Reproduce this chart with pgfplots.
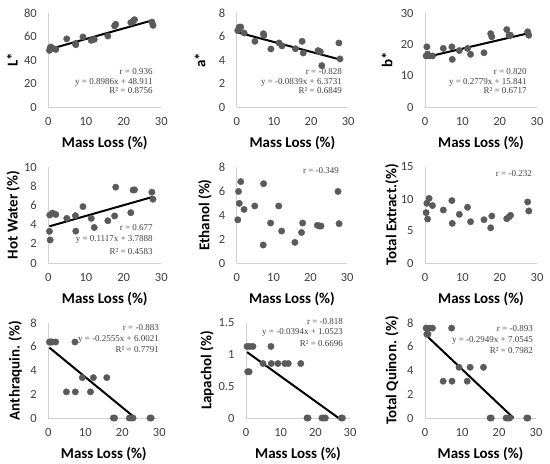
\documentclass[border=0pt]{standalone}
\usepackage{pgfplots}
\pgfplotsset{compat=1.18}
\usepackage{fontspec}
\setmainfont{Carlito}
\newfontfamily\annfont{Liberation Serif}
\definecolor{axgray}{HTML}{D0D0D0}
\definecolor{dotgray}{HTML}{5A5A5A}
\definecolor{tickgray}{HTML}{404040}
\definecolor{anngray}{HTML}{404040}
\pgfplotsset{
  ylabshift/.initial=36bp,
  panel/.style={
    scale only axis, xmin=0, xmax=30, xtick={0,10,20,30}, ymin=0,
    axis lines=left,
    axis line style={-, draw=axgray, line width=0.9bp},
    every outer x axis line/.append style={-},
    every outer y axis line/.append style={-},
    major tick length=0pt,
    tick label style={font=\fontsize{12.5bp}{15bp}\selectfont, text=tickgray},
    /pgf/number format/assume math mode=true,
    xticklabel style={yshift=-7bp},
    yticklabel style={xshift=-8bp},
    every axis x label/.style={at={(rel axis cs:0.5,0)}, yshift=-36bp, anchor=center,
      font=\bfseries\fontsize{15bp}{18bp}\selectfont},
    every axis y label/.style={at={(rel axis cs:0,0.5)}, xshift=-\pgfkeysvalueof{/pgfplots/ylabshift}, rotate=90, anchor=center,
      font=\bfseries\fontsize{15bp}{18bp}\selectfont},
    xlabel={Mass Loss (\%)},
    clip=false,
  },
  dots/.style={only marks, mark=*, mark size=3.2bp, mark options={fill=dotgray, draw=dotgray}},
  trend/.style={no marks, black, line width=2bp},
}
\newcommand\ann[3]{\node[anchor=east, inner sep=0pt, text=anngray, font=\annfont\fontsize{9bp}{11bp}\selectfont] at (rel axis cs:#1,#2) {#3};}
\begin{document}
\begin{tikzpicture}
\useasboundingbox (0,0) rectangle (550bp,464bp);
% ---------------- Row 1 ----------------
\begin{axis}[panel, at={(48.3bp,357bp)}, anchor=south west, width=113bp, height=94bp,
  ymax=80, ytick={0,20,40,60,80}, ylabel={L*}, ylabshift=36bp]
\addplot[dots] coordinates {(0.3,48.2) (0.5,50.5) (0.7,51) (1.1,50) (2.0,49) (4.9,58) (7.2,54) (7.3,53) (9.2,59.6) (11.4,56.7) (12.2,57.6) (15.8,60.4) (17.6,69) (17.9,70.4) (21.9,71.8) (22.5,73) (22.9,74.3) (27.5,72.3) (27.8,69.5)};
\addplot[trend] coordinates {(0.3,49.18) (27.8,73.89)};
\ann{0.924}{0.372}{r = 0.936}
\ann{0.924}{0.266}{y = 0.8986x + 48.911}
\ann{0.924}{0.17}{R² = 0.8756}
\end{axis}
\begin{axis}[panel, at={(236.7bp,357bp)}, anchor=south west, width=111.5bp, height=94bp,
  ymax=8, ytick={0,2,4,6,8}, ylabel={a*}, ylabshift=36.7bp]
\addplot[dots] coordinates {(0.3,6.5) (0.5,6.6) (0.7,6.8) (1.1,6.8) (2.0,6.3) (4.9,5.59) (7.2,6.24) (7.3,6.1) (9.2,4.94) (11.4,5.45) (12.2,5.2) (15.8,4.96) (17.6,5.59) (17.9,4.6) (21.9,4.8) (22.5,4.7) (22.9,3.52) (27.5,5.45) (27.8,4.09)};
\addplot[trend] coordinates {(0.3,6.348) (27.8,4.041)};
\ann{0.944}{0.372}{r = -0.828}
\ann{0.944}{0.266}{y = -0.0839x + 6.3731}
\ann{0.944}{0.17}{R² = 0.6849}
\end{axis}
\begin{axis}[panel, at={(425bp,357bp)}, anchor=south west, width=112bp, height=94bp,
  ymax=30, ytick={0,10,20,30}, ylabel={b*}, ylabshift=38bp]
\addplot[dots] coordinates {(0.3,16.3) (0.5,19.2) (0.7,16.9) (1.1,16.3) (2.0,16.3) (4.9,18.7) (7.2,19.2) (7.3,15.2) (9.2,18.0) (11.4,18.7) (12.2,16.8) (15.8,17.3) (17.6,23.4) (17.9,22.4) (21.9,24.7) (22.5,22.9) (22.9,22.9) (27.5,24.0) (27.8,22.9)};
\addplot[trend] coordinates {(0.3,15.924) (27.8,23.567)};
\ann{0.91}{0.372}{r = 0.820}
\ann{0.91}{0.266}{y = 0.2779x + 15.841}
\ann{0.91}{0.17}{R² = 0.6717}
\end{axis}
% ---------------- Row 2 ----------------
\begin{axis}[panel, at={(48.3bp,201bp)}, anchor=south west, width=113bp, height=96bp,
  ymax=10, ytick={0,2,4,6,8,10}, ylabel={Hot Water (\%)}, ylabshift=35bp]
\addplot[dots] coordinates {(0.3,3.3) (0.5,2.4) (0.4,5.0) (1.1,5.2) (2.0,5.05) (4.9,4.65) (7.2,4.93) (7.3,3.32) (9.2,5.87) (11.4,4.65) (12.2,3.7) (15.8,4.4) (17.6,4.9) (17.9,7.9) (21.9,5.24) (22.5,7.6) (22.9,7.62) (27.5,7.38) (27.8,6.64)};
\addplot[trend] coordinates {(0.3,3.822) (27.8,6.894)};
\ann{0.926}{0.365}{r = 0.677}
\ann{0.926}{0.24}{y = 0.1117x + 3.7888}
\ann{0.926}{0.115}{R² = 0.4583}
\end{axis}
\begin{axis}[panel, at={(236.7bp,201bp)}, anchor=south west, width=110.5bp, height=96bp,
  ymax=8, ytick={0,2,4,6,8}, ylabel={Ethanol (\%)}, ylabshift=31.7bp]
\addplot[dots] coordinates {(0.3,3.6) (0.5,5.96) (0.7,4.97) (1.1,6.78) (2.0,4.46) (4.9,4.75) (7.2,1.5) (7.3,6.61) (9.2,3.33) (11.4,4.75) (12.2,2.66) (15.8,1.72) (17.6,2.54) (17.9,3.33) (21.9,3.14) (22.5,3.08) (22.9,3.08) (27.5,5.96) (27.8,3.28)};
\ann{0.926}{0.96}{r = -0.349}
\end{axis}
\begin{axis}[panel, at={(425bp,201bp)}, anchor=south west, width=112bp, height=96bp,
  ymax=15, ytick={0,5,10,15}, ylabel={Total Extract.(\%)}, ylabshift=33bp]
\addplot[dots] coordinates {(0.3,7.87) (0.5,9.33) (0.7,6.87) (1.1,10.1) (2.0,8.97) (4.9,8.28) (7.2,9.75) (7.3,6.19) (9.2,7.6) (11.4,8.7) (12.2,6.45) (15.8,6.76) (17.6,5.5) (17.9,7.34) (21.9,6.92) (22.5,7.2) (22.9,7.45) (27.5,9.54) (27.8,8.13)};
\ann{0.955}{0.93}{r = -0.232}
\end{axis}
% ---------------- Row 3 ----------------
\begin{axis}[panel, at={(48.3bp,46bp)}, anchor=south west, width=111bp, height=95bp,
  ymax=8, ytick={0,2,4,6,8}, ylabel={Anthraquin. (\%)}, ylabshift=33bp]
\addplot[dots] coordinates {(0.3,6.4) (0.5,6.4) (0.7,6.4) (1.1,6.4) (2.0,6.4) (4.9,2.2) (7.2,6.4) (7.3,2.2) (9.2,3.4) (11.4,2.2) (12.2,3.4) (15.8,3.4) (17.6,0) (17.9,0) (21.9,0) (22.5,0) (22.9,0) (27.5,0) (27.8,0)};
\addplot[trend] coordinates {(0.3,5.925) (23.49,0)};
\ann{0.997}{0.947}{r = -0.883}
\ann{0.997}{0.83}{y = -0.2555x + 6.0021}
\ann{0.997}{0.716}{R² = 0.7791}
\end{axis}
\begin{axis}[panel, at={(246bp,46bp)}, anchor=south west, width=104bp, height=95bp,
  ymax=1.5, ytick={0,0.5,1,1.5}, ylabel={Lapachol (\%)}, ylabshift=39bp]
\addplot[dots] coordinates {(0.3,1.13) (0.5,0.73) (0.9,0.73) (1.1,1.13) (2.0,1.13) (4.9,0.86) (7.2,1.13) (7.3,0.86) (9.2,0.86) (11.2,0.86) (12.2,0.86) (15.8,0.86) (17.6,0) (17.9,0) (21.9,0) (22.5,0) (22.9,0) (27.5,0) (27.8,0)};
\addplot[trend] coordinates {(0.3,1.0405) (26.71,0)};
\ann{0.933}{1.01}{r = -0.818}
\ann{0.933}{0.895}{y = -0.0394x + 1.0523}
\ann{0.933}{0.78}{R² = 0.6696}
\end{axis}
\begin{axis}[panel, at={(425bp,46bp)}, anchor=south west, width=111bp, height=95bp,
  ymax=8, ytick={0,2,4,6,8}, ylabel={Total Quinon. (\%)}, ylabshift=33bp]
\addplot[dots] coordinates {(0.3,7.57) (0.5,7.06) (0.8,7.06) (1.1,7.57) (2.0,7.57) (4.9,3.1) (7.2,7.57) (7.3,3.1) (9.2,4.27) (11.4,3.1) (12.2,4.27) (15.8,4.27) (17.6,0) (17.9,0) (21.9,0) (22.5,0) (22.9,0) (27.5,0) (27.8,0)};
\addplot[trend] coordinates {(0.3,6.966) (23.92,0)};
\ann{0.973}{0.937}{r = -0.893}
\ann{0.973}{0.82}{y = -0.2949x + 7.0545}
\ann{0.973}{0.705}{R² = 0.7982}
\end{axis}
\end{tikzpicture}
\end{document}
